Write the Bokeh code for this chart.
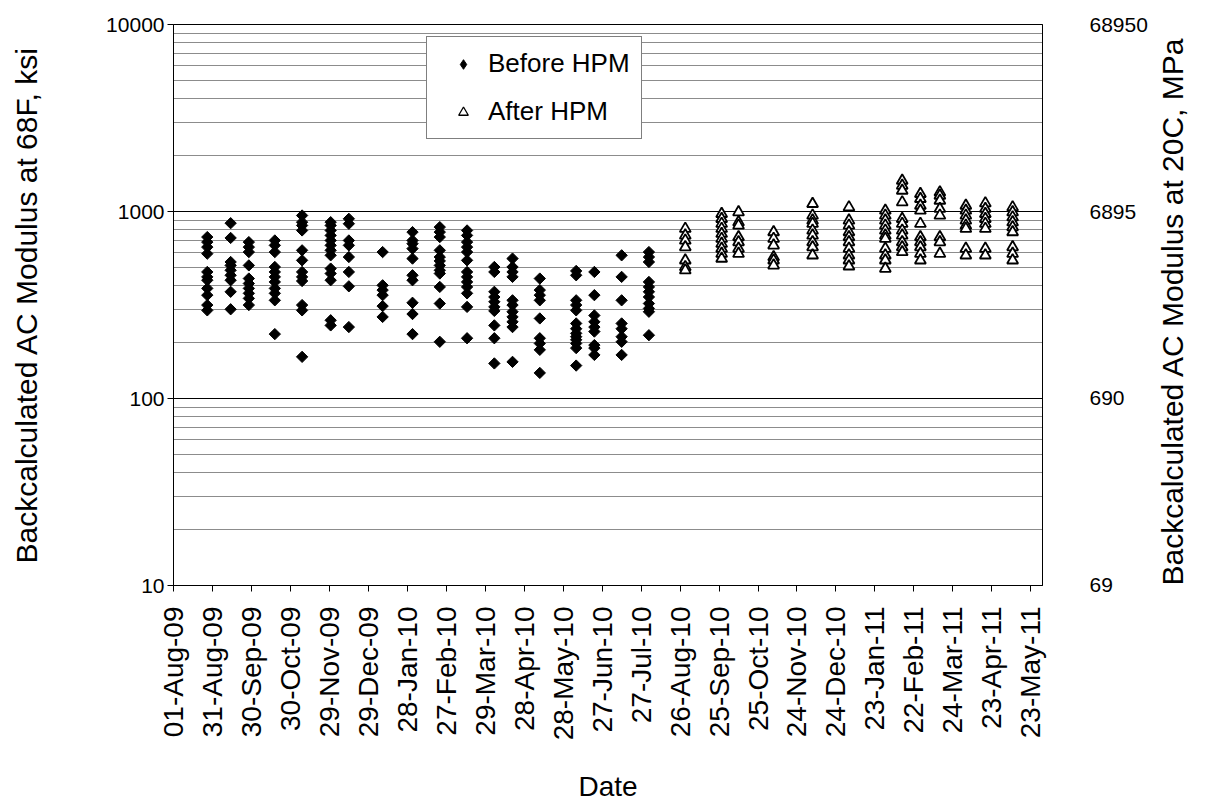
import datetime as dt
import numpy as np
from bokeh.plotting import figure
from bokeh.models import (Range1d, LogAxis, LogScale, FixedTicker, DatetimeTickFormatter,
                          Legend, LegendItem, ColumnDataSource)
from bokeh.embed import file_html
from bokeh.resources import INLINE

# ---------------- data ----------------
before_dates = ["2009-08-27", "2009-09-14", "2009-09-28", "2009-10-18", "2009-11-08", "2009-11-30",
                "2009-12-14", "2010-01-09", "2010-02-01", "2010-02-22", "2010-03-15", "2010-04-05",
                "2010-04-19", "2010-05-10", "2010-06-07", "2010-06-21", "2010-07-12", "2010-08-02"]
before_values = [
    [730, 686, 645, 595, 475, 447, 429, 388, 357, 316, 296],
    [866, 722, 537, 515, 485, 456, 429, 372, 300],
    [686, 645, 607, 515, 438, 412, 388, 365, 343, 316],
    [700, 659, 607, 505, 475, 447, 420, 388, 365, 335, 221],
    [952, 877, 842, 792, 620, 548, 475, 447, 425, 316, 296, 167],
    [877, 842, 792, 745, 700, 659, 620, 583, 495, 466, 429, 262, 246],
    [914, 860, 700, 659, 571, 475, 398, 241],
    [607, 403, 380, 357, 312, 273],
    [776, 700, 673, 633, 560, 456, 429, 325, 283, 221],
    [825, 776, 730, 620, 571, 544, 515, 485, 466, 395, 322, 201],
    [792, 745, 686, 645, 607, 548, 475, 447, 420, 395, 365, 309, 210],
    [505, 475, 372, 349, 329, 309, 294, 246, 210, 154],
    [560, 505, 475, 447, 335, 316, 291, 273, 257, 241, 157],
    [438, 380, 357, 335, 268, 210, 197, 182, 137],
    [481, 456, 335, 316, 296, 252, 236, 223, 214, 206, 197, 186, 150],
    [475, 357, 278, 257, 241, 228, 193, 186, 171],
    [583, 447, 335, 252, 236, 214, 201, 171],
    [607, 571, 537, 420, 395, 372, 349, 322, 303, 291, 218],
]

after_dates = ["2010-08-30", "2010-09-27", "2010-10-10", "2010-11-06", "2010-12-06", "2011-01-03",
               "2011-01-31", "2011-02-13", "2011-02-27", "2011-03-14", "2011-04-03", "2011-04-18",
               "2011-05-09"]
after_values = [
    [809, 745, 700, 645, 548, 505, 485],
    [972, 914, 860, 809, 760, 715, 673, 633, 595, 560],
    [992, 877, 842, 730, 686, 633, 595],
    [776, 715, 659, 571, 548, 515],
    [1099, 952, 896, 860, 792, 745, 686, 645, 583],
    [1054, 896, 842, 776, 730, 686, 633, 583, 548, 509],
    [1012, 952, 896, 842, 792, 745, 715, 633, 583, 548, 495],
    [1463, 1375, 1294, 1121, 914, 860, 792, 745, 686, 645, 607],
    [1243, 1169, 1076, 1012, 860, 730, 686, 645, 595, 548],
    [1268, 1217, 1144, 1034, 952, 730, 686, 595],
    [1076, 1012, 952, 896, 842, 809, 633, 583],
    [1107, 1034, 972, 914, 860, 809, 633, 583],
    [1054, 992, 932, 877, 825, 776, 645, 595, 548],
]

x_tick_dates = ["2009-08-01", "2009-08-31", "2009-09-30", "2009-10-30", "2009-11-29", "2009-12-29",
                "2010-01-28", "2010-02-27", "2010-03-29", "2010-04-28", "2010-05-28", "2010-06-27",
                "2010-07-27", "2010-08-26", "2010-09-25", "2010-10-25", "2010-11-24", "2010-12-24",
                "2011-01-23", "2011-02-22", "2011-03-24", "2011-04-23", "2011-05-23"]
x_start, x_end = "2009-08-01", "2011-06-01"

y_ticks_ksi = [10, 100, 1000, 10000]
y_ticks_mpa = [69, 690, 6895, 68950]
ksi_to_mpa = 6.895

FONT = "Liberation Sans"


def to_dt(s):
    return dt.datetime.strptime(s, "%Y-%m-%d")


def to_ms(s):
    return (to_dt(s) - dt.datetime(1970, 1, 1)).total_seconds() * 1000.0


def expand(dates, values):
    xs, ys = [], []
    for d, vals in zip(dates, values):
        for v in vals:
            xs.append(to_dt(d))
            ys.append(v)
    return ColumnDataSource(dict(x=xs, y=ys))


src_before = expand(before_dates, before_values)
src_after = expand(after_dates, after_values)

W, H = 1208, 805
FL, FT, FW, FH = 173, 24, 869, 563
p = figure(width=W, height=H, x_axis_type="datetime", y_axis_type="log",
           x_range=Range1d(to_dt(x_start), to_dt(x_end)),
           y_range=Range1d(y_ticks_ksi[0], y_ticks_ksi[-1]),
           output_backend="svg", toolbar_location=None,
           min_border_left=FL, min_border_right=W - FL - FW, min_border_top=FT,
           min_border_bottom=H - FT - FH)
p.background_fill_color = "white"
p.border_fill_color = "white"
p.outline_line_color = "black"
p.outline_line_width = 1

# grid
minor = [m * 10 ** k for k in range(1, 4) for m in range(2, 10)]
yt = FixedTicker(ticks=y_ticks_ksi, minor_ticks=minor)
p.yaxis.ticker = yt
p.ygrid.ticker = yt
p.ygrid.grid_line_color = "#000000"
p.ygrid.grid_line_width = 1
p.ygrid.minor_grid_line_color = "#8c8c8c"
p.ygrid.minor_grid_line_width = 1
p.xgrid.grid_line_color = None

# x axis
xa = p.xaxis[0]
xa.ticker = FixedTicker(ticks=[to_ms(s) for s in x_tick_dates], minor_ticks=[])
fmt = "%d-%b-%y"
xa.formatter = DatetimeTickFormatter(milliseconds=fmt, seconds=fmt, minsec=fmt, minutes=fmt,
                                     hourmin=fmt, hours=fmt, days=fmt, months=fmt, years=fmt)
xa.major_label_orientation = np.pi / 2
xa.major_label_text_font = FONT
xa.major_label_text_font_size = "28px"
xa.major_label_text_color = "black"
xa.major_tick_in = 0
xa.major_tick_out = 6
xa.minor_tick_line_color = None
xa.axis_line_color = "black"
xa.major_label_standoff = 15
xa.axis_label = "Date"
xa.axis_label_text_font = FONT
xa.axis_label_text_font_style = "normal"
xa.axis_label_text_font_size = "28px"
xa.axis_label_text_color = "black"
xa.axis_label_standoff = 28

# left y axis
ya = p.yaxis[0]
ya.major_label_overrides = {t: str(t) for t in y_ticks_ksi}
ya.major_label_text_font = FONT
ya.major_label_text_font_size = "21px"
ya.major_label_text_color = "black"
ya.major_tick_in = 0
ya.major_tick_out = 6
ya.minor_tick_line_color = None
ya.major_label_standoff = 3
ya.axis_label = "Backcalculated AC Modulus at 68F, ksi"
ya.axis_label_text_font = FONT
ya.axis_label_text_font_style = "normal"
ya.axis_label_text_font_size = "30px"
ya.axis_label_text_color = "black"
ya.axis_label_standoff = 60

# right y axis (MPa)
p.extra_y_ranges = {"mpa": Range1d(y_ticks_ksi[0] * ksi_to_mpa, y_ticks_ksi[-1] * ksi_to_mpa)}
p.extra_y_scales = {"mpa": LogScale()}
ra = LogAxis(y_range_name="mpa")
ra.ticker = FixedTicker(ticks=y_ticks_mpa, minor_ticks=[])
ra.major_label_overrides = {t: str(t) for t in y_ticks_mpa}
ra.major_label_text_font = FONT
ra.major_label_text_font_size = "21px"
ra.major_label_text_color = "black"
ra.major_tick_line_color = None
ra.minor_tick_line_color = None
ra.major_label_standoff = 41
ra.axis_line_color = "black"
ra.axis_label = "Backcalculated AC Modulus at 20C, MPa"
ra.axis_label_text_font = FONT
ra.axis_label_text_font_style = "normal"
ra.axis_label_text_font_size = "30px"
ra.axis_label_text_color = "black"
ra.axis_label_standoff = 22
props = ra.properties()
if "axis_label_orientation" in props:
    ra.axis_label_orientation = np.pi / 2
if "axis_label_align" in props:
    ra.axis_label_align = "start"
p.add_layout(ra, "right")

# data
r_b = p.scatter(x="x", y="y", source=src_before, marker="square", angle=np.pi / 4, size=8,
                fill_color="black", line_color="black", line_width=1)
r_a = p.scatter(x="x", y="y", source=src_after, marker="triangle", size=11,
                fill_color="white", line_color="black", line_width=1.8)

# legend-only (hidden) renderers so the legend shows small diamond / triangle symbols
lg_b = p.scatter(x="x", y="y", source=src_before, marker="diamond",
                 fill_color="black", line_color="black", visible=False)
lg_a = p.scatter(x="x", y="y", source=src_after, marker="triangle",
                 fill_color="white", line_color="black", line_width=1.3, visible=False)

legend = Legend(items=[LegendItem(label="Before HPM", renderers=[lg_b]),
                       LegendItem(label="After HPM", renderers=[lg_a])],
                location=(253, 446))
legend.click_policy = "none"
legend.label_text_font = FONT
legend.label_text_font_size = "26px"
legend.label_text_color = "black"
legend.glyph_width = 50
legend.glyph_height = 24
legend.label_standoff = 0
legend.label_height = 30
legend.spacing = 17
legend.padding = 11
legend.margin = 0
legend.border_line_color = "black"
legend.border_line_width = 1
legend.background_fill_color = "white"
legend.background_fill_alpha = 1
p.add_layout(legend)

open("out.html", "w").write(file_html(p, INLINE))
